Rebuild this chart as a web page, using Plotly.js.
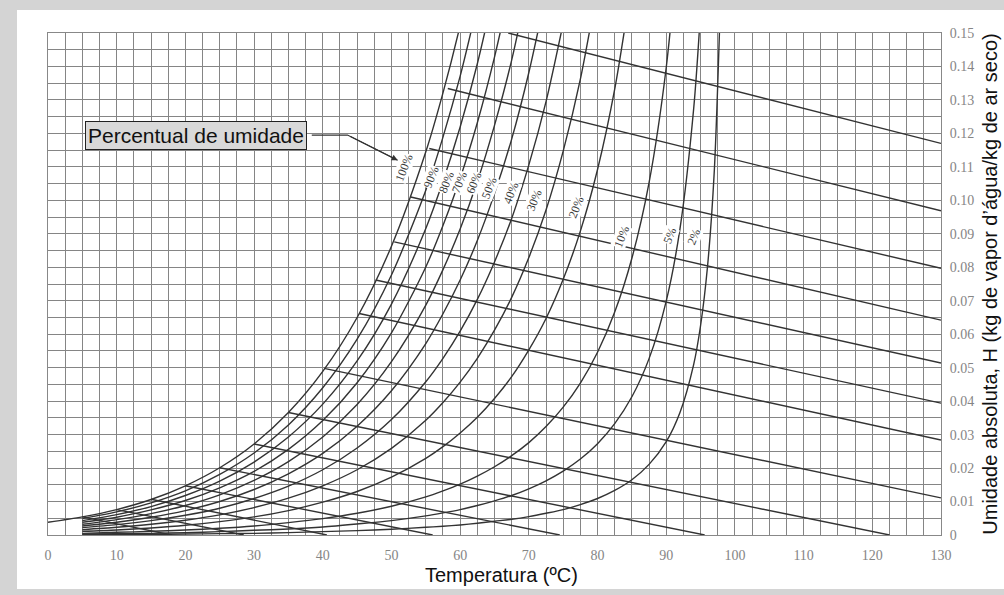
<!DOCTYPE html>
<html>
<head>
<meta charset="utf-8">
<script src="https://cdn.plot.ly/plotly-3.0.1.min.js"></script>
<style>
html,body{margin:0;padding:0;background:#d4d4d4;width:1004px;height:595px;overflow:hidden}
#panel{position:absolute;left:17px;top:10px;width:987px;height:579px;background:#ffffff}
#chart{position:absolute;left:0;top:0;width:1004px;height:595px}
</style>
</head>
<body>
<div id="panel"></div>
<div id="chart"></div>
<script>
// Temperature grid (°C) at which the humidity curves were read
const temps = [0,5,10,15,20,25,30,35,40,45,50,55,57.5,60,62.5,65,67.5,70,72.5,75,77.5,80,82.5,85,87.5,90,92,94,95,96,97,98];

// Percent-humidity curves: absolute humidity H (kg water / kg dry air)
const h100 = [0.0038,0.0054,0.0076,0.0106,0.0147,0.0201,0.0272,0.0366,0.0489,0.0650,0.0863,0.1145,0.1321,0.1523,0.1760];
const h90  = [null,0.0049,0.0069,0.0096,0.0132,0.0181,0.0245,0.0329,0.0440,0.0585,0.0777,0.1030,0.1189,0.1371,0.1584];
const h80  = [null,0.0043,0.0061,0.0085,0.0118,0.0161,0.0218,0.0293,0.0391,0.0520,0.0690,0.0916,0.1057,0.1219,0.1408,0.1632];
const h70  = [null,0.0038,0.0053,0.0075,0.0103,0.0141,0.0190,0.0256,0.0342,0.0455,0.0604,0.0801,0.0925,0.1066,0.1232,0.1428,0.1656];
const h60  = [null,0.0032,0.0046,0.0064,0.0088,0.0120,0.0163,0.0219,0.0293,0.0390,0.0518,0.0687,0.0793,0.0914,0.1056,0.1224,0.1419,0.1659];
const h50  = [null,0.0027,0.0038,0.0053,0.0073,0.0100,0.0136,0.0183,0.0244,0.0325,0.0431,0.0572,0.0661,0.0762,0.0880,0.1020,0.1183,0.1382,0.1618];
const h40  = [null,0.0022,0.0031,0.0043,0.0059,0.0080,0.0109,0.0146,0.0195,0.0260,0.0345,0.0458,0.0528,0.0609,0.0704,0.0816,0.0946,0.1106,0.1295,0.1529];
const h30  = [null,0.0016,0.0023,0.0032,0.0044,0.0060,0.0082,0.0110,0.0147,0.0195,0.0259,0.0343,0.0396,0.0457,0.0528,0.0612,0.0710,0.0829,0.0971,0.1147,0.1362,0.1638];
const h20  = [null,0.0011,0.0015,0.0021,0.0029,0.0040,0.0054,0.0073,0.0098,0.0130,0.0173,0.0229,0.0264,0.0305,0.0352,0.0408,0.0473,0.0553,0.0647,0.0764,0.0908,0.1092,0.1332,0.1653];
const h10  = [null,0.0005,0.0008,0.0011,0.0015,0.0020,0.0027,0.0037,0.0049,0.0065,0.0086,0.0114,0.0132,0.0152,0.0176,0.0204,0.0237,0.0276,0.0324,0.0382,0.0454,0.0546,0.0666,0.0827,0.1053,0.1397,0.1829];
const h5   = [null,0.0003,0.0004,0.0005,0.0007,0.0010,0.0014,0.0018,0.0024,0.0033,0.0043,0.0057,0.0066,0.0076,0.0088,0.0102,0.0118,0.0138,0.0162,0.0191,0.0227,0.0273,0.0333,0.0413,0.0527,0.0699,0.0915,0.1275,0.1565];
const h2   = [null,0.0001,0.0002,0.0002,0.0003,0.0004,0.0005,0.0007,0.0010,0.0013,0.0017,0.0023,0.0026,0.0030,0.0035,0.0041,0.0047,0.0055,0.0065,0.0076,0.0091,0.0109,0.0133,0.0165,0.0211,0.0279,0.0366,0.0510,0.0626,0.0800,0.1089,0.1670];

const curveNames = ['100%','90%','80%','70%','60%','50%','40%','30%','20%','10%','5%','2%'];
const curveValues = [h100,h90,h80,h70,h60,h50,h40,h30,h20,h10,h5,h2];

// Adiabatic saturation lines: start (on 100% curve) and end points
const satTemps   = [5,10,15,20,25,30,35,40,45,47.5,50,52.5,55,57.5,60];
const lineStartT = [5,10,15,20,25,30,35,40.2,45.3,47.7,50.4,52.8,55.5,58.2,67];
const lineStartH = [0.0054,0.0076,0.0107,0.0147,0.0201,0.0272,0.0366,0.0498,0.0662,0.0762,0.0876,0.1010,0.1155,0.1334,0.1500];
const lineEndT   = [18,28.5,40.6,56,74.5,95.6,122.5,130,130,130,130,130,130,130,130];
const lineEndH   = [0,0,0,0,0,0,0,0.0111,0.0284,0.0394,0.0514,0.0642,0.0797,0.0969,0.1170];

// Curve label positions
const pctLabelText = ['100%','90%','80%','70%','60%','50%','40%','30%','20%','10%','5%','2%'];
const pctLabelT    = [51.8,55.8,58.0,59.9,62.0,64.2,67.4,70.8,76.9,83.5,90.6,94.0];
const pctLabelH    = [0.1097,0.1070,0.1055,0.1055,0.1052,0.1037,0.1022,0.1001,0.0980,0.0890,0.0895,0.0890];

// Ticks
const xTicks = [0,10,20,30,40,50,60,70,80,90,100,110,120,130];
const xTickLabels = ['0','10','20','30','40','50','60','70','80','90','100','110','120','130'];
const yTicks = [0,0.01,0.02,0.03,0.04,0.05,0.06,0.07,0.08,0.09,0.10,0.11,0.12,0.13,0.14,0.15];
const yTickLabels = ['0','0.01','0.02','0.03','0.04','0.05','0.06','0.07','0.08','0.09','0.10','0.11','0.12','0.13','0.14','0.15'];

const lineColor = '#333333';
const gridColor = '#858585';
const traces = [];

curveValues.forEach((vals, i) => {
  traces.push({
    x: temps.slice(0, vals.length), y: vals, name: curveNames[i],
    mode: 'lines', line: {color: lineColor, width: 1.4, shape: 'spline', smoothing: 0.8},
    hoverinfo: 'skip', showlegend: false, connectgaps: false
  });
});

satTemps.forEach((ts, i) => {
  traces.push({
    x: [lineStartT[i], lineEndT[i]], y: [lineStartH[i], lineEndH[i]],
    name: 'Ts ' + ts, mode: 'lines', line: {color: lineColor, width: 1.4},
    hoverinfo: 'skip', showlegend: false
  });
});

const annotations = pctLabelText.map((t, i) => ({
  x: pctLabelT[i], y: pctLabelH[i], xref: 'x', yref: 'y', text: t, showarrow: false,
  textangle: -68, font: {family: 'Liberation Serif, DejaVu Serif, serif', size: 12, color: '#3a3a3a'},
  bgcolor: '#ffffff', borderpad: 0
}));

annotations.push({
  x: 21.5, y: 0.1193, xref: 'x', yref: 'y', text: 'Percentual de umidade', showarrow: false,
  font: {family: 'Liberation Sans, Arial, sans-serif', size: 21, color: '#111'},
  bgcolor: '#d9d9d9', bordercolor: '#222', borderwidth: 1, borderpad: 2
});
annotations.push({
  x: 50.9, y: 0.1120, xref: 'x', yref: 'y', text: ' ', showarrow: true,
  ax: 43.6, ay: 0.1195, axref: 'x', ayref: 'y',
  arrowhead: 2, arrowsize: 1, arrowwidth: 1.2, arrowcolor: '#333', standoff: 0, startstandoff: 0
});
// x-axis title placed as text below the tick labels
annotations.push({
  x: 0.508, y: -0.080, xref: 'paper', yref: 'paper', xanchor: 'center', yanchor: 'middle',
  text: 'Temperatura (ºC)', showarrow: false,
  font: {family: 'Liberation Sans, Arial, sans-serif', size: 20, color: '#111'}
});

const shapes = [{
  type: 'path', xref: 'x', yref: 'y',
  path: 'M 38.4 0.1195 L 43.6 0.1195 L 50.9 0.1120',
  line: {color: '#333', width: 1.2}
}];

const layout = {
  width: 1004, height: 595,
  margin: {l: 48, r: 63, t: 33, b: 60},
  paper_bgcolor: 'rgba(0,0,0,0)', plot_bgcolor: 'rgba(0,0,0,0)',
  showlegend: false,
  xaxis: {
    range: [0, 130], tickmode: 'array', tickvals: xTicks, ticktext: xTickLabels,
    tickfont: {family: 'Liberation Serif, DejaVu Serif, serif', size: 14, color: '#858585'},
    ticks: '', ticklabelstandoff: 7,
    showgrid: true, gridcolor: gridColor, gridwidth: 1,
    minor: {dtick: 2.5, tick0: 0, showgrid: true, gridcolor: gridColor, gridwidth: 1, ticks: ''},
    showline: true, linecolor: '#888', linewidth: 1, mirror: true, zeroline: false,
    automargin: false
  },
  yaxis: {
    side: 'right', range: [0, 0.15], tickmode: 'array', tickvals: yTicks, ticktext: yTickLabels,
    tickfont: {family: 'Liberation Serif, DejaVu Serif, serif', size: 14, color: '#858585'},
    ticks: '', ticklabelstandoff: 5,
    showgrid: true, gridcolor: gridColor, gridwidth: 1,
    minor: {dtick: 0.005, tick0: 0, showgrid: true, gridcolor: gridColor, gridwidth: 1, ticks: ''},
    showline: true, linecolor: '#888', linewidth: 1, mirror: true, zeroline: false,
    automargin: false,
    title: {text: 'Umidade absoluta, H (kg de vapor d’água/kg de ar seco)', font: {family: 'Liberation Sans, Arial, sans-serif', size: 20, color: '#111'}, standoff: 9}
  },
  annotations: annotations,
  shapes: shapes
};

Plotly.newPlot('chart', traces, layout, {staticPlot: true, displayModeBar: false});
</script>
</body>
</html>
